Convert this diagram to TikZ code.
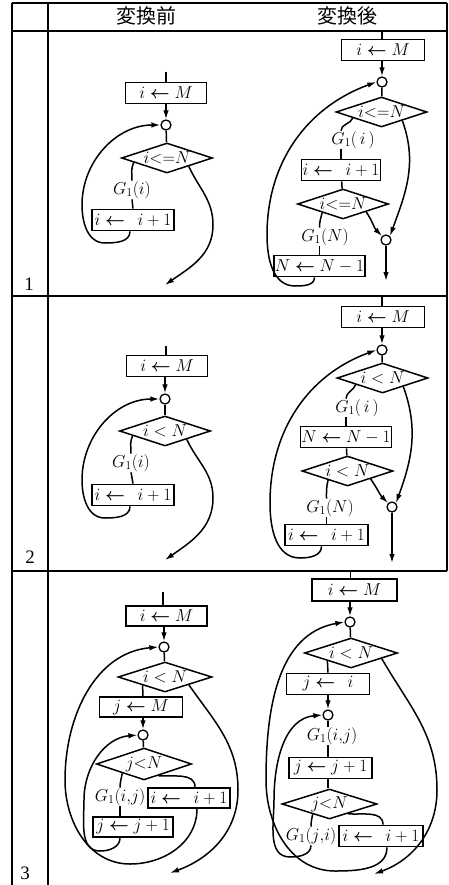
\documentclass[tikz,border=0pt]{standalone}
\usepackage{fontspec}
\usepackage{bm}
\setmainfont{Liberation Serif}
\newfontfamily\cjk{Noto Sans CJK JP}
\usetikzlibrary{shapes.geometric,arrows.meta,calc}
\newcommand\fsz{\fontsize{18}{21}\selectfont}
\newcommand\lar{\mathrel{\bm{\leftarrow}}}
\begin{document}
\begin{tikzpicture}[x=1pt,y=1pt,
  bx/.style={draw,line width=1.7pt,minimum height=21pt,inner sep=1pt,font=\fsz},
  jn/.style={draw,circle,minimum size=10pt,inner sep=0pt,line width=1.3pt},
  dm/.style={draw,diamond,aspect=3,minimum width=91pt,minimum height=30pt,inner sep=0pt,line width=1.5pt,font=\fsz},
  lb/.style={inner sep=0.5pt,font=\fsz},
  ln/.style={line width=1.5pt},
  ar/.style={ln,-{Latex[length=9pt,width=5.5pt]}},
  tl/.style={line width=1.5pt},
  hd/.style={font=\cjk\fontsize{20}{22}\selectfont},
  rn/.style={font=\fontsize{19}{21}\selectfont},
]
\useasboundingbox (0,0) rectangle (448,-885);
% table
\draw[tl] (12,-3) -- (447,-3);
\draw[tl] (12,-31) -- (447,-31);
\draw[tl] (12,-296) -- (447,-296);
\draw[tl] (12,-571) -- (447,-571);
\draw[tl] (12,-3) -- (12,-885);
\draw[tl] (48,-3) -- (48,-885);
\draw[tl] (447,-3) -- (447,-571);
\node[hd] (h1) at (146,-16) {変換前};
\node[hd] (h2) at (347,-16) {変換後};
\node[rn] (r1) at (29,-284) {1};
\node[rn] (r2) at (30,-557) {2};
\node[rn] (r3) at (25,-873) {3};

% ---------- Row 1 left ----------
\coordinate (Ae) at (166,-72);
\node[bx,minimum width=81pt] (Ab1) at (166,-93) {$i\lar M$};
\node[jn] (Ac1) at (166,-125) {};
\node[dm] (Ad1) at (167,-158) {$i{<}{=}N$};
\node[lb] (Ag1) at (132,-190) {$G_1(i)$};
\node[bx,minimum width=82pt] (Ab2) at (133,-220) {$i\lar\;\, i+1$};
\coordinate (Ax) at (165,-285);
\draw[ln] (Ae) -- (Ab1.north);
\draw[ar] (Ab1) -- (Ac1);
\draw[ln] (Ac1) -- (Ad1);
\draw[ln] ($(Ad1.west)!0.28!(Ad1.south)$) to[out=-115,in=90] (Ag1.north);
\draw[ln] (Ag1.south) -- (Ab2.north);
\draw[ar] ($(Ab2.south)+(-3,0)$) to[out=-90,in=0] (105,-243) to[out=180,in=-90] (82,-205) to[out=90,in=180] (Ac1.west);
\draw[ar] ($(Ad1.south)!0.47!(Ad1.east)$) to[out=-65,in=90] (213,-225) to[out=-90,in=35] (Ax);

% ---------- Row 2 left ----------
\coordinate (Be) at (166,-346);
\node[bx,minimum width=81pt] (Bb1) at (167,-366) {$i\lar M$};
\node[jn] (Bc1) at (165,-399) {};
\node[dm] (Bd1) at (165,-431) {$i<N$};
\node[lb] (Bg1) at (131,-463) {$G_1(i)$};
\node[bx,minimum width=82pt] (Bb2) at (133,-495) {$i\lar\;\, i+1$};
\coordinate (Bx) at (165,-560);
\draw[ln] (Be) -- (Be |- Bb1.north);
\draw[ar] (Bb1.south -| Bc1) -- (Bc1.north);
\draw[ln] (Bc1) -- (Bd1);
\draw[ln] ($(Bd1.west)!0.3!(Bd1.south)$) to[out=-115,in=90] (Bg1.north);
\draw[ln] (Bg1.south) -- (Bb2.north);
\draw[ar] ($(Bb2.south)+(-3,0)$) to[out=-90,in=0] (105,-518) to[out=180,in=-90] (82,-480) to[out=90,in=180] (Bc1.west);
\draw[ar] ($(Bd1.south)!0.47!(Bd1.east)$) to[out=-65,in=90] (213,-498) to[out=-90,in=35] (Bx);

% ---------- Row 1 right ----------
\coordinate (Ce) at (382,-31);
\node[bx,minimum width=83pt] (Cb1) at (383,-50) {$i\lar M$};
\node[jn] (Cc1) at (382,-82) {};
\node[dm] (Cd1) at (381.5,-112) {$i{<}{=}N$};
\node[lb] (Cg1) at (353,-140) {$G_1(\,i\,)$};
\node[bx,minimum width=78pt] (Cb2) at (341,-170) {$i\lar\;\, i+1$};
\node[dm] (Cd2) at (343,-204) {$i{<}{=}N$};
\node[lb] (Cg2) at (325,-237) {$G_1(N)$};
\node[bx,minimum width=83pt] (Cb3) at (319.5,-266) {$N\lar N-1$};
\node[jn] (Cc2) at (386,-240) {};
\coordinate (Cx) at (386,-281);
\draw[ln] (Ce) -- (Ce |- Cb1.north);
\draw[ar] (Cb1.south -| Cc1) -- (Cc1.north);
\draw[ln] (Cc1) -- (Cd1);
\draw[ln] ($(Cd1.west)!0.38!(Cd1.south)$) to[out=-110,in=90] (Cg1.north -| Cb2.north);
\draw[ln] (Cg1.south -| Cb2.north) -- (Cb2.north);
\draw[ln] (Cb2) -- (Cd2);
\draw[ln] ($(Cd2.west)!0.55!(Cd2.south)$) to[out=-105,in=90] (Cg2.north -| Cb3.north);
\draw[ln] (Cg2.south -| Cb3.north) -- (Cb3.north);
\draw[ar] ($(Cd1.south)!0.45!(Cd1.east)$) to[out=-70,in=70] (Cc2.north east);
\draw[ar] ($(Cd2.south)!0.5!(Cd2.east)$) to[out=-55,in=135] (Cc2.north west);
\draw[ar] (Cc2) -- (Cx);
\draw[ar] ($(Cb3.south)+(-5,0)$) to[out=-90,in=0] (295,-286) to[out=180,in=-90] (267,-235) to[out=90,in=200] (Cc1.west);

% ---------- Row 2 right ----------
\coordinate (De) at (382,-296);
\node[bx,minimum width=83pt] (Db1) at (383,-317) {$i\lar M$};
\node[jn] (Dc1) at (382,-350) {};
\node[dm] (Dd1) at (382.5,-378) {$i<N$};
\node[lb] (Dg1) at (357,-408) {$G_1(\,i\,)$};
\node[bx,minimum width=83pt] (Db2) at (346,-437) {$N\lar N-1$};
\node[dm] (Dd2) at (347.5,-471) {$i<N$};
\node[lb] (Dg2) at (330,-508) {$G_1(N)$};
\node[bx,minimum width=83pt] (Db3) at (326.5,-535) {$i\lar\;\, i+1$};
\node[jn] (Dc2) at (392,-507) {};
\coordinate (Dx) at (392,-563);
\draw[ln] (De) -- (De |- Db1.north);
\draw[ar] (Db1.south -| Dc1) -- (Dc1.north);
\draw[ln] (Dc1) -- (Dd1);
\draw[ln] ($(Dd1.west)!0.42!(Dd1.south)$) to[out=-110,in=90] (Dg1.north -| Db2.north);
\draw[ln] (Dg1.south -| Db2.north) -- (Db2.north);
\draw[ln] (Db2) -- (Dd2);
\draw[ln] ($(Dd2.west)!0.58!(Dd2.south)$) to[out=-105,in=90] (Dg2.north -| Db3.north);
\draw[ln] (Dg2.south -| Db3.north) -- (Db3.north);
\draw[ar] ($(Dd1.south)!0.45!(Dd1.east)$) to[out=-70,in=70] (Dc2.north east);
\draw[ar] ($(Dd2.south)!0.5!(Dd2.east)$) to[out=-55,in=135] (Dc2.north west);
\draw[ar] (Dc2) -- (Dx);
\draw[ar] ($(Db3.south)+(-5,0)$) to[out=-90,in=0] (300,-558) to[out=180,in=-90] (270,-503) to[out=90,in=200] (Dc1.west);

% ---------- Row 3 left ----------
\coordinate (Ee) at (163,-592);
\node[bx,minimum width=81pt,minimum height=20pt] (Eb1) at (166.5,-616) {$i\lar M$};
\node[jn] (Ec1) at (164,-647) {};
\node[dm,minimum width=94pt] (Ed1) at (165,-677) {$i<N$};
\node[bx,minimum width=83pt,minimum height=20pt] (Eb2) at (141,-707) {$j\lar M$};
\node[jn] (Ec2) at (143,-735) {};
\node[dm,minimum width=95pt,minimum height=32pt] (Ed2) at (144,-764) {$j{<}N$};
\node[lb] (Eg) at (120,-797) {$G_1(i{,}j)$};
\node[bx,minimum width=82pt,minimum height=20pt] (Eb3) at (189,-798) {$i\lar\;\, i+1$};
\node[bx,minimum width=80pt,minimum height=20pt] (Eb4) at (133,-827) {$j\lar j+1$};
\coordinate (Ex) at (170,-873);
\draw[ln] (Ee) -- (Ee |- Eb1.north);
\draw[ar] (Eb1.south -| Ec1) -- (Ec1.north);
\draw[ln] (Ec1) -- (Ed1);
\draw[ln] ($(Ed1.west)!0.53!(Ed1.south)$) -- (Eb2.north -| Ec2);
\draw[ar] (Eb2.south -| Ec2) -- (Ec2.north);
\draw[ln] (Ec2) -- (Ed2);
\draw[ln] ($(Ed2.west)!0.55!(Ed2.south)$) to[out=-100,in=90] (Eg.north);
\draw[ln] (Eg.south) -- (Eg.south |- Eb4.north);
\draw[ln] ($(Ed2.south)!0.3!(Ed2.east)$) to[out=-5,in=90] ($(Eb3.north)+(6,0)$);
\draw[ar] ($(Eb4.south)+(-13,0)$) to[out=-90,in=0] (100,-851) to[out=180,in=-90] (84,-800) to[out=90,in=185] (Ec2.west);
\draw[ar] ($(Eb3.south)+(8,0)$) to[out=-90,in=0] (130,-864) to[out=180,in=-90] (65,-780) to[out=90,in=185] (Ec1.west);
\draw[ar] ($(Ed1.south)!0.5!(Ed1.east)$) to[out=-55,in=90] (238,-790) to[out=-90,in=20] (Ex);

% ---------- Row 3 right ----------
\coordinate (Fe) at (350.5,-571);
\node[bx,minimum width=85pt,minimum height=22pt] (Fb1) at (354.5,-590) {$i\lar M$};
\node[jn] (Fc1) at (350,-622) {};
\node[dm,minimum width=93pt] (Fd1) at (351,-653) {$i<N$};
\node[bx,minimum width=83pt] (Fb2) at (328,-684) {$j\lar\;\, i$};
\node[jn] (Fc2) at (328,-715) {};
\node[lb] (Fg1) at (332,-736) {$G_1(i{,}j)$};
\node[bx,minimum width=83pt] (Fb3) at (330.5,-768) {$j\lar j+1$};
\node[dm,minimum width=95pt] (Fd2) at (329.5,-804) {$j{<}N$};
\node[lb] (Fg2) at (311,-836) {$G_1(j{,}i)$};
\node[bx,minimum width=84pt] (Fb4) at (381,-836) {$i\lar\;\, i+1$};
\coordinate (Fx) at (374,-874);
\draw[ln] (Fe) -- (Fe |- Fb1.north);
\draw[ar] (Fb1.south -| Fc1) -- (Fc1.north);
\draw[ln] (Fc1) -- (Fd1);
\draw[ln] ($(Fd1.west)!0.5!(Fd1.south)$) -- (Fb2.north -| Fc2);
\draw[ar] (Fb2.south -| Fc2) -- (Fc2.north);
\draw[ln] (Fc2.south) -- (Fc2 |- Fg1.north);
\draw[ln] (Fc2 |- Fg1.south) -- (Fc2 |- Fb3.north);
\draw[ln] (Fc2 |- Fb3.south) -- (Fc2 |- Fd2.north);
\draw[ln] ($(Fd2.west)!0.65!(Fd2.south)$) to[out=-100,in=90] (Fg2.north);
\draw[ln] ($(Fd2.south)!0.38!(Fd2.east)$) to[out=-5,in=90] ($(Fb4.north)+(2,0)$);
\draw[ar] (Fg2.south) to[out=-90,in=0] (290,-857) to[out=180,in=-90] (274,-800) to[out=90,in=185] (Fc2.west);
\draw[ar] ($(Fb4.south)+(6,0)$) to[out=-90,in=0] (335,-871) to[out=180,in=-90] (266,-780) to[out=90,in=190] (Fc1.west);
\draw[ar] ($(Fd1.south)!0.65!(Fd1.east)$) to[out=-60,in=90] (437,-790) to[out=-90,in=20] (Fx);
\end{tikzpicture}
\end{document}
